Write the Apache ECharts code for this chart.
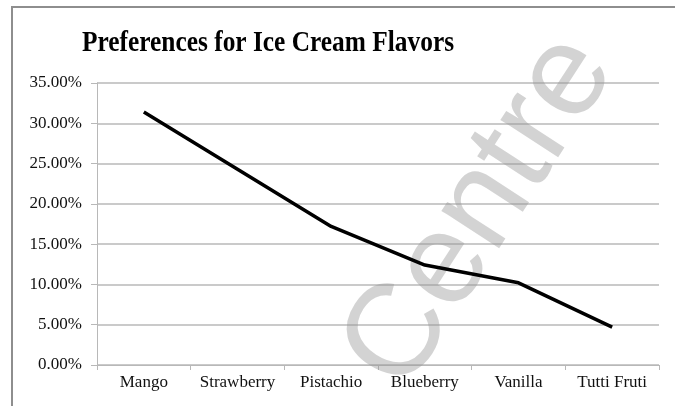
<!DOCTYPE html>
<html>
<head>
<meta charset="utf-8">
<script src="https://cdn.jsdelivr.net/npm/echarts@6/dist/echarts.min.js"></script>
<style>
  html, body { margin: 0; padding: 0; background: #fff; }
  #chart { width: 675px; height: 406px; }
</style>
</head>
<body>
<div id="chart"></div>
<script>
// Ice cream flavour preferences, values in percent
const flavors = ["Mango", "Strawberry", "Pistachio", "Blueberry", "Vanilla", "Tutti Fruti"];
const shares = [31.4, 24.3, 17.2, 12.4, 10.2, 4.7];
const titleText = "Preferences for Ice Cream Flavors";
const watermarkText = "Centre";

const serif = "'Liberation Serif', 'Times New Roman', serif";
const gridGrey = "#b8b8b8";

const chart = echarts.init(document.getElementById("chart"), null, { renderer: "canvas" });

chart.setOption({
  backgroundColor: "#fff",
  animation: false,
  grid: { left: 97, right: 16, top: 83, bottom: 41 },
  graphic: [
    {
      // outer chart frame, only top and left edges fall inside the crop
      type: "rect",
      z: 0,
      shape: { x: 12, y: 7, width: 700, height: 500 },
      style: { fill: "none", stroke: "#8e8e8e", lineWidth: 2 },
    },
    {
      type: "text",
      z: 1,
      x: 480,
      y: 212,
      rotation: (57 * Math.PI) / 180,
      style: {
        text: watermarkText,
        font: "130px 'Liberation Sans', Arial, sans-serif",
        fill: "rgba(150,150,150,0.42)",
        textAlign: "center",
        textVerticalAlign: "middle",
      },
    },
    {
      type: "text",
      z: 10,
      x: 268,
      y: 43,
      scaleX: 0.846,
      style: {
        text: titleText,
        font: "bold 30px " + serif,
        fill: "#000",
        textAlign: "center",
        textVerticalAlign: "middle",
      },
    },
  ],
  xAxis: {
    type: "category",
    data: flavors,
    boundaryGap: true,
    axisLine: { lineStyle: { color: gridGrey, width: 1 } },
    axisTick: { show: true, length: 5, lineStyle: { color: gridGrey } },
    axisLabel: { interval: 0, color: "#111", fontFamily: serif, fontSize: 17, margin: 9 },
    splitLine: { show: false },
  },
  yAxis: {
    type: "value",
    min: 0,
    max: 35,
    interval: 5,
    axisLine: { show: true, lineStyle: { color: gridGrey, width: 1 } },
    axisTick: { show: true, length: 6, lineStyle: { color: gridGrey } },
    axisLabel: {
      color: "#111",
      fontFamily: serif,
      fontSize: 17,
      margin: 15,
      formatter: (v) => v.toFixed(2) + "%",
    },
    splitLine: { show: true, lineStyle: { color: gridGrey, width: 1.5 } },
  },
  series: [
    {
      type: "line",
      data: shares,
      z: 5,
      symbol: "none",
      lineStyle: { color: "#000", width: 3.5 },
    },
  ],
});
</script>
</body>
</html>
